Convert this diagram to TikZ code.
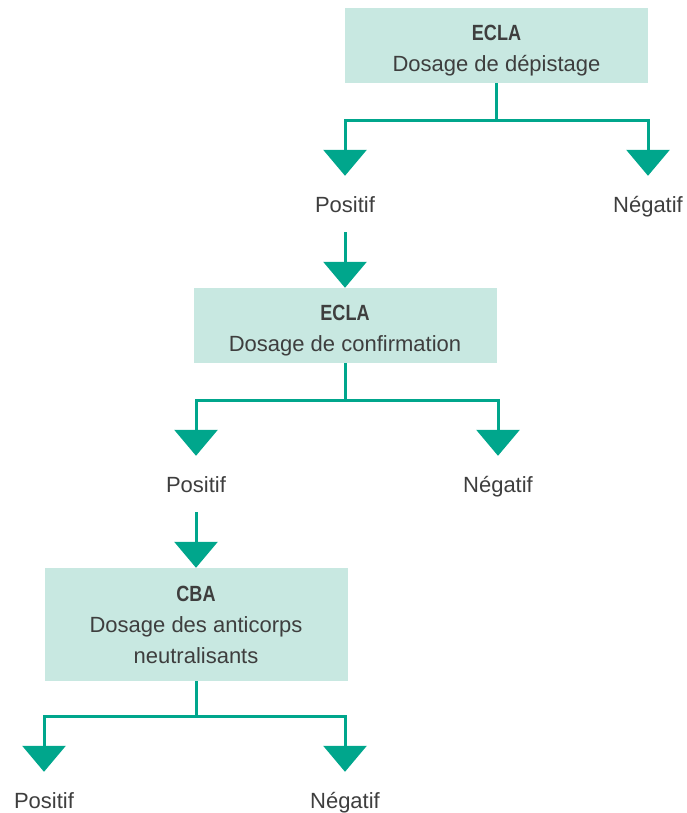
\documentclass[tikz,border=0pt]{standalone}
\usepackage{fontspec}
\usepackage{graphicx}
\setmainfont{Liberation Sans}
\usetikzlibrary{arrows.meta,positioning,calc}
\definecolor{assay}{RGB}{200,232,225}
\definecolor{branch}{RGB}{0,166,140}
\definecolor{txt}{RGB}{62,62,62}
\newcommand{\assayname}[1]{\scalebox{0.82}[1]{\bfseries #1}}
\newcommand{\toppad}{\rule{0pt}{25pt}}

\begin{document}
\begin{tikzpicture}[
  x=1pt, y=-1pt,
  % Styling
  every node/.style={font=\fontsize{22}{31}\selectfont, text=txt},
  assaybox/.style={
    fill=assay,
    minimum width=303pt,
    minimum height=75pt,
    align=center,
    inner sep=0pt
  },
  result/.style={
    anchor=base,
    inner xsep=0pt,
    inner ysep=20pt,
    text height=16pt,
    text depth=0pt
  },
  arr/.style={
    -{Triangle[width=43pt,length=26pt]},
    draw=branch,
    line width=3pt
  }
]
\useasboundingbox (0,0) rectangle (687,813);

% Screening assay
\node[assaybox] (screen) at (496.5,45.5) {\toppad\assayname{ECLA}\\Dosage de dépistage};
\node[result] (screenpos) at (345,212) {Positif};
\node[result] (screenneg) at (648,212) {Négatif};

% Confirmation assay
\node[assaybox] (confirm) at (345,325.5) {\toppad\assayname{ECLA}\\Dosage de confirmation};
\node[result] (confpos) at (196,492) {Positif};
\node[result] (confneg) at (498,492) {Négatif};

% Neutralising antibody assay
\node[assaybox, minimum height=113pt] (cba) at (196,624.5) {\assayname{CBA}\\Dosage des anticorps\\neutralisants};
\node[result] (cbapos) at (44,808) {Positif};
\node[result] (cbaneg) at (345,808) {Négatif};

% Branches
\draw[arr] (screen.south) -- ++(0,37) -| (screenpos.north);
\draw[arr] (screen.south) -- ++(0,37) -| (screenneg.north);
\draw[arr] (confirm.south) -- ++(0,37) -| (confpos.north);
\draw[arr] (confirm.south) -- ++(0,37) -| (confneg.north);
\draw[arr] (cba.south) -- ++(0,35) -| (cbapos.north);
\draw[arr] (cba.south) -- ++(0,35) -| (cbaneg.north);

% Positive results go on
\draw[arr] (screenpos.south) -- (confirm.north);
\draw[arr] (confpos.south) -- (cba.north);

\end{tikzpicture}
\end{document}
